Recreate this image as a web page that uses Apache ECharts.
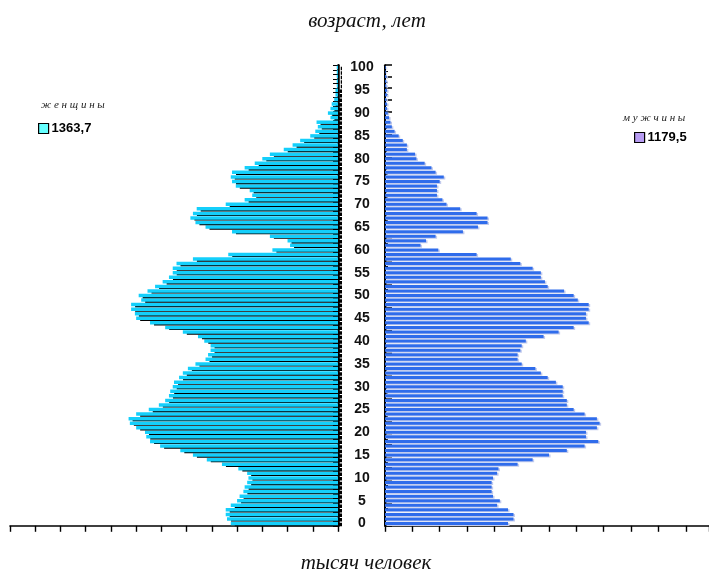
<!DOCTYPE html>
<html>
<head>
    <meta http-equiv="Content-Type" content="text/html; charset=utf-8" />
    <title>возраст, лет</title>
    <style type="text/css">
        * { margin: 0; padding: 0 }
        html, body { width: 100%; height: 100%; background: #fff; }
        #chart { width: 709px; height: 571px; }
    </style>
</head>
<body>
    <div id="chart"></div>
    <script src="https://cdn.jsdelivr.net/npm/echarts@6/dist/echarts.min.js"></script>
    <script>
        // возраст 0..100
        const ages = [];
        for (let i = 0; i <= 100; i++) ages.push(String(i));

        // женщины, тыс. человек (по возрастам 0..100)
        const women = [
            8.5, 8.8, 8.9, 8.9, 8.5, 8.0, 7.8, 7.5, 7.4, 7.2,
            7.1, 7.2, 7.9, 9.2, 10.4, 11.5, 12.5, 14.1, 14.9, 15.2,
            15.3, 16.0, 16.5, 16.6, 16.0, 15.0, 14.2, 13.7, 13.4, 13.3,
            13.1, 13.0, 12.6, 12.3, 11.9, 11.3, 10.5, 10.3, 10.1, 10.1,
            10.6, 11.1, 12.3, 13.7, 14.9, 16.0, 16.1, 16.4, 16.4, 15.6,
            15.8, 15.1, 14.5, 13.9, 13.4, 13.1, 13.1, 12.8, 11.5, 8.7,
            5.2, 3.8, 4.0, 5.4, 8.4, 10.5, 11.3, 11.7, 11.5, 11.2,
            8.9, 7.4, 6.8, 7.0, 8.1, 8.4, 8.5, 8.4, 7.4, 6.6,
            6.0, 5.4, 4.3, 3.6, 3.0, 2.2, 1.8, 1.6, 1.7, 0.6,
            0.8, 0.6, 0.5, 0.3, 0.2, 0.2, 0.1, 0.1, 0.1, 0.1, 0.1
        ];
        // мужчины, тыс. человек
        const men = [
            9.0, 9.4, 9.4, 9.0, 8.2, 8.4, 7.9, 7.8, 7.8, 7.8,
            7.9, 8.2, 8.3, 9.7, 10.8, 12.0, 13.3, 14.6, 15.6, 14.7,
            14.7, 15.5, 15.7, 15.5, 14.6, 13.8, 13.3, 13.3, 13.0, 13.0,
            13.0, 12.5, 11.9, 11.4, 11.0, 10.0, 9.7, 9.7, 9.9, 10.0,
            10.3, 11.6, 12.7, 13.8, 14.9, 14.7, 14.7, 14.9, 14.9, 14.1,
            13.8, 13.1, 11.9, 11.7, 11.4, 11.4, 10.8, 9.9, 9.2, 6.7,
            3.9, 2.6, 3.0, 3.7, 5.7, 6.8, 7.5, 7.5, 6.7, 5.5,
            4.5, 4.2, 3.8, 3.8, 3.8, 4.0, 4.3, 3.7, 3.4, 2.9,
            2.3, 2.2, 1.6, 1.6, 1.3, 1.0, 0.7, 0.5, 0.4, 0.3,
            0.2, 0.15, 0.15, 0.1, 0.15, 0.15, 0.1, 0.1, 0.1, 0.05, 0.05
        ];
        const womenTotal = '1363,7';
        const menTotal = '1179,5';

        const chart = echarts.init(document.getElementById('chart'), null, { renderer: 'canvas' });
        const serif = '"Liberation Serif", "DejaVu Serif", serif';
        const sans = '"Liberation Sans", Arial, sans-serif';

        const option = {
            animation: false,
            backgroundColor: '#fff',
            title: [
                { text: 'возраст, лет', left: 362, top: 6, textAlign: 'center',
                  textStyle: { fontFamily: serif, fontStyle: 'italic', fontWeight: 'normal', fontSize: 21, color: '#111' } },
                { text: 'тысяч человек', left: 361, top: 548, textAlign: 'center',
                  textStyle: { fontFamily: serif, fontStyle: 'italic', fontWeight: 'normal', fontSize: 21, color: '#111' } },
                { text: 'ж е н щ и н ы', left: 36, top: 95,
                  textStyle: { fontFamily: serif, fontStyle: 'italic', fontWeight: 'normal', fontSize: 11, color: '#222' } },
                { text: 'м у ж ч и н ы', left: 618, top: 108,
                  textStyle: { fontFamily: serif, fontStyle: 'italic', fontWeight: 'normal', fontSize: 11, color: '#222' } }
            ],
            legend: [
                { left: 38, top: 122, padding: 0, itemWidth: 10, itemHeight: 10, itemGap: 4, icon: 'rect',
                  data: [{ name: womenTotal, itemStyle: { color: '#66ffff', borderColor: '#000', borderWidth: 1.2 } }],
                  textStyle: { fontFamily: sans, fontWeight: 'bold', fontSize: 13, color: '#000', padding: [0, 0, 0, -2] } },
                { left: 634, top: 131, padding: 0, itemWidth: 10, itemHeight: 10, itemGap: 4, icon: 'rect',
                  data: [{ name: menTotal, itemStyle: { color: '#b79cf2', borderColor: '#000', borderWidth: 1.2 } }],
                  textStyle: { fontFamily: sans, fontWeight: 'bold', fontSize: 13, color: '#000', padding: [0, 0, 0, -2] } }
            ],
            grid: [
                { left: 10, right: 371, top: 65.2, bottom: 45.2, containLabel: false },
                { left: 385, right: 0, top: 65.2, bottom: 45.2, containLabel: false }
            ],
            xAxis: [
                { gridIndex: 0, type: 'value', inverse: true, min: 0, max: 26, interval: 2,
                  axisLine: { show: true, lineStyle: { color: '#000', width: 1.6 } },
                  axisTick: { show: true, length: 6, lineStyle: { color: '#000', width: 1.4 } },
                  axisLabel: { show: false }, splitLine: { show: false } },
                { gridIndex: 1, type: 'value', min: 0, max: 23.7, interval: 2,
                  axisLine: { show: true, lineStyle: { color: '#000', width: 1.6 } },
                  axisTick: { show: true, length: 6, lineStyle: { color: '#000', width: 1.4 } },
                  axisLabel: { show: false }, splitLine: { show: false } }
            ],
            yAxis: [
                { gridIndex: 0, type: 'category', data: ages, position: 'right', boundaryGap: true,
                  axisLine: { show: true, lineStyle: { color: '#000', width: 2.5 } },
                  axisTick: { show: true, inside: true, interval: 0, length: 5, lineStyle: { color: '#000', width: 1 } },
                  axisLabel: { show: true, interval: 4, margin: 24, align: 'center',
                               fontFamily: sans, fontWeight: 'bold', fontSize: 14, color: '#111' } },
                { gridIndex: 1, type: 'category', data: ages, position: 'left', boundaryGap: true,
                  axisLine: { show: true, lineStyle: { color: '#000', width: 2 } },
                  axisTick: { show: false }, axisLabel: { show: false } },
                // засечки правой оси
                { gridIndex: 1, type: 'value', position: 'left', min: 0, max: 40, interval: 1,
                  axisLine: { show: false },
                  axisTick: { show: true, inside: true, length: 7, lineStyle: { color: '#000', width: 1.5 } },
                  minorTick: { show: true, splitNumber: 2, length: 3, lineStyle: { color: '#000', width: 1 } },
                  axisLabel: { show: false }, splitLine: { show: false } }
            ],
            series: [
                { name: womenTotal, type: 'bar', xAxisIndex: 0, yAxisIndex: 0, data: women,
                  barWidth: 3.5, color: '#66ffff',
                  itemStyle: { color: '#14cffb', shadowColor: '#000', shadowBlur: 0, shadowOffsetX: 4, shadowOffsetY: 0.9 } },
                { name: menTotal, type: 'bar', xAxisIndex: 1, yAxisIndex: 1, data: men,
                  barWidth: 3, color: '#b79cf2',
                  itemStyle: { color: '#2f6ceb', shadowColor: '#c3cbec', shadowBlur: 0, shadowOffsetX: 1.5, shadowOffsetY: 1 } }
            ]
        };
        chart.setOption(option);
    </script>
</body>
</html>
